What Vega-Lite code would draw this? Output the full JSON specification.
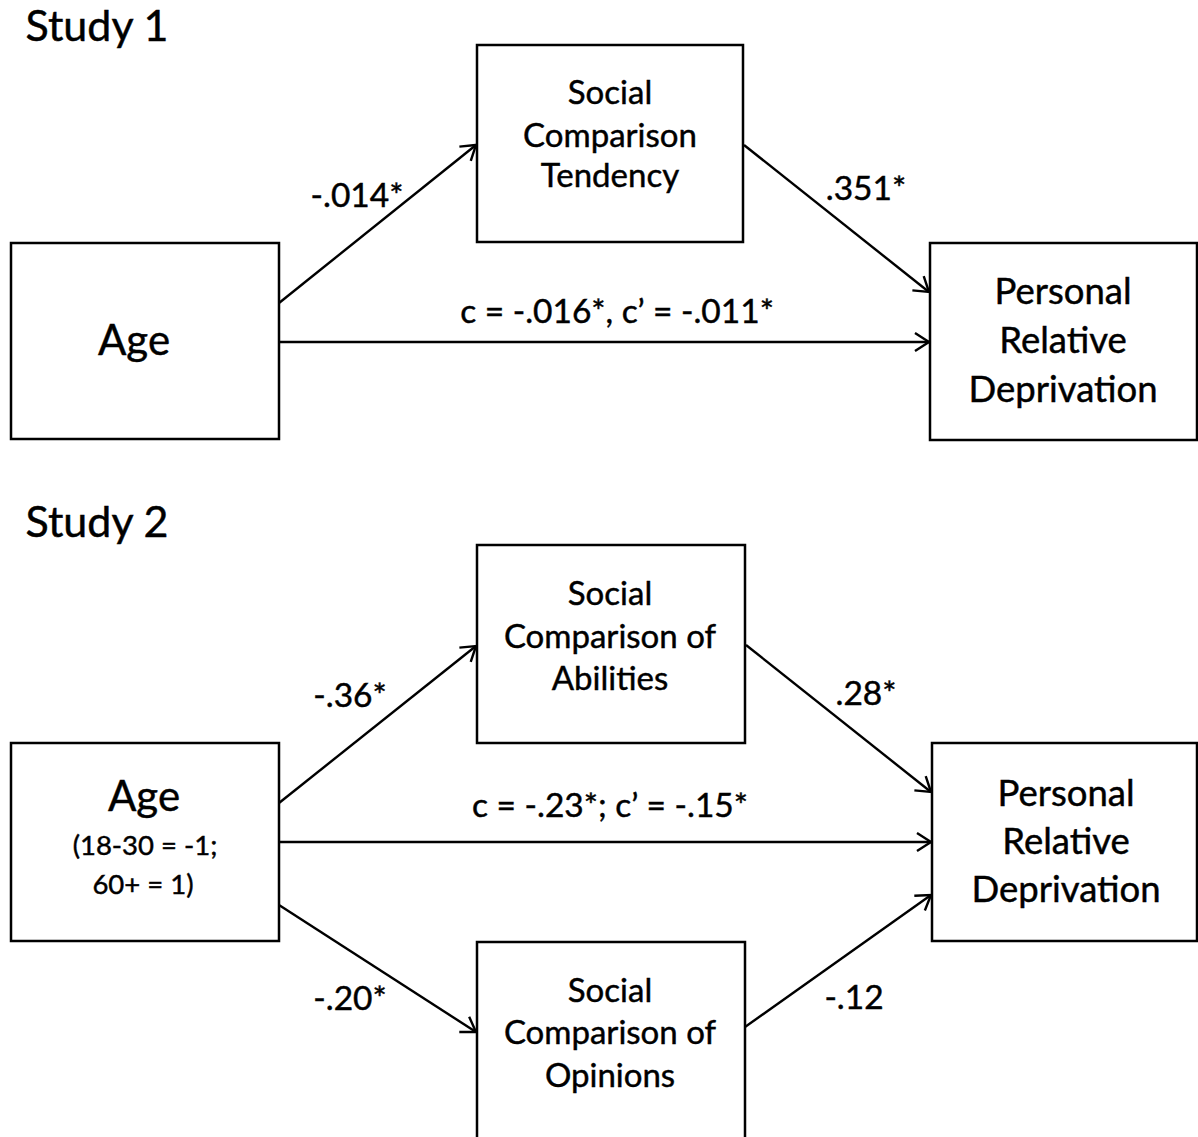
{
  "$schema": "https://vega.github.io/schema/vega-lite/v6.json",
  "autosize": {"type": "fit", "contains": "padding"},
  "width": 1198,
  "height": 1137,
  "padding": 0,
  "background": "white",
  "config": {"view": {"stroke": null}, "text": {"font": "Lato", "align": "center", "baseline": "middle", "color": "black", "stroke": "black", "strokeWidth": 0.45}},
  "datasets": {
    "boxes": [
      {"node": "S1 Age", "x": 11, "x2": 279, "y": 243, "y2": 439},
      {"node": "S1 Social Comparison Tendency", "x": 477, "x2": 743, "y": 45, "y2": 242},
      {"node": "S1 Personal Relative Deprivation", "x": 930, "x2": 1197, "y": 243, "y2": 440},
      {"node": "S2 Age", "x": 11, "x2": 279, "y": 743, "y2": 941},
      {"node": "S2 Social Comparison of Abilities", "x": 477, "x2": 745, "y": 545, "y2": 743},
      {"node": "S2 Personal Relative Deprivation", "x": 932, "x2": 1197, "y": 743, "y2": 941},
      {"node": "S2 Social Comparison of Opinions", "x": 477, "x2": 745, "y": 942, "y2": 1160}
    ],
    "edges": [
      {"path": "S1 a", "x": 279, "y": 303, "x2": 476, "y2": 145, "angle": 321.3},
      {"path": "S1 b", "x": 744, "y": 145, "x2": 929, "y2": 292, "angle": 38.5},
      {"path": "S1 c", "x": 279, "y": 342, "x2": 929, "y2": 342, "angle": 0},
      {"path": "S2 a1", "x": 279, "y": 803, "x2": 476, "y2": 646, "angle": 321.4},
      {"path": "S2 b1", "x": 746, "y": 645, "x2": 931, "y2": 792, "angle": 38.5},
      {"path": "S2 c", "x": 279, "y": 842, "x2": 931, "y2": 842, "angle": 0},
      {"path": "S2 a2", "x": 279, "y": 905, "x2": 476, "y2": 1032, "angle": 32.8},
      {"path": "S2 b2", "x": 745, "y": 1027, "x2": 931, "y2": 895, "angle": 324.6}
    ],
    "labels": [
      {"role": "title", "text": "Study 1", "x": 97, "y": 28},
      {"role": "coef", "text": "-.014*", "x": 357, "y": 197},
      {"role": "node", "text": "Social", "x": 610, "y": 94},
      {"role": "node", "text": "Comparison", "x": 610, "y": 137},
      {"role": "node", "text": "Tendency", "x": 610, "y": 177},
      {"role": "coef", "text": ".351*", "x": 866, "y": 190},
      {"role": "coef", "text": "c = -.016*, c’ = -.011*", "x": 617, "y": 313},
      {"role": "age", "text": "Age", "x": 134, "y": 342},
      {"role": "prd", "text": "Personal", "x": 1063, "y": 293},
      {"role": "prd", "text": "Relative", "x": 1063, "y": 342},
      {"role": "prd", "text": "Deprivation", "x": 1063, "y": 391},
      {"role": "title", "text": "Study 2", "x": 97, "y": 524},
      {"role": "coef", "text": "-.36*", "x": 350, "y": 697},
      {"role": "node", "text": "Social", "x": 610, "y": 595},
      {"role": "node", "text": "Comparison of", "x": 610, "y": 638},
      {"role": "node", "text": "Abilities", "x": 610, "y": 680},
      {"role": "coef", "text": "c = -.23*; c’ = -.15*", "x": 610, "y": 807},
      {"role": "coef", "text": ".28*", "x": 866, "y": 695},
      {"role": "prd", "text": "Personal", "x": 1066, "y": 795},
      {"role": "prd", "text": "Relative", "x": 1066, "y": 843},
      {"role": "prd", "text": "Deprivation", "x": 1066, "y": 891},
      {"role": "age", "text": "Age", "x": 144, "y": 798},
      {"role": "note", "text": "(18-30 = -1;", "x": 145, "y": 847},
      {"role": "note", "text": "60+ = 1)", "x": 143, "y": 886},
      {"role": "coef", "text": "-.20*", "x": 350, "y": 1000},
      {"role": "node", "text": "Social", "x": 610, "y": 992},
      {"role": "node", "text": "Comparison of", "x": 610, "y": 1034},
      {"role": "node", "text": "Opinions", "x": 610, "y": 1077},
      {"role": "coef", "text": "-.12", "x": 854, "y": 999}
    ]
  },
  "layer": [
    {
      "data": {"name": "boxes"},
      "mark": {"type": "rect", "fill": "white", "stroke": "black", "strokeWidth": 2.5, "clip": true},
      "encoding": {
        "x": {"field": "x", "type": "quantitative", "scale": {"domain": [0, 1198], "nice": false, "zero": false}, "axis": null},
        "x2": {"field": "x2"},
        "y": {"field": "y", "type": "quantitative", "scale": {"domain": [0, 1137], "nice": false, "zero": false, "reverse": true}, "axis": null},
        "y2": {"field": "y2"}
      }
    },
    {
      "data": {"name": "edges"},
      "mark": {"type": "rule", "stroke": "black", "strokeWidth": 2.4},
      "encoding": {
        "x": {"field": "x", "type": "quantitative"},
        "x2": {"field": "x2"},
        "y": {"field": "y", "type": "quantitative"},
        "y2": {"field": "y2"}
      }
    },
    {
      "data": {"name": "edges"},
      "mark": {"type": "point", "shape": "M-1,-0.65L0,0L-1,0.65", "size": 784, "filled": false, "stroke": "black", "strokeWidth": 2.4, "opacity": 1},
      "encoding": {
        "x": {"field": "x2", "type": "quantitative"},
        "y": {"field": "y2", "type": "quantitative"},
        "angle": {"field": "angle", "type": "quantitative", "scale": null}
      }
    },
    {
      "data": {"name": "labels"},
      "transform": [{"filter": "datum.role === 'title'"}],
      "mark": {"type": "text", "fontSize": 43},
      "encoding": {"x": {"field": "x", "type": "quantitative"}, "y": {"field": "y", "type": "quantitative"}, "text": {"field": "text"}}
    },
    {
      "data": {"name": "labels"},
      "transform": [{"filter": "datum.role === 'age'"}],
      "mark": {"type": "text", "fontSize": 42},
      "encoding": {"x": {"field": "x", "type": "quantitative"}, "y": {"field": "y", "type": "quantitative"}, "text": {"field": "text"}}
    },
    {
      "data": {"name": "labels"},
      "transform": [{"filter": "datum.role === 'node'"}],
      "mark": {"type": "text", "fontSize": 33},
      "encoding": {"x": {"field": "x", "type": "quantitative"}, "y": {"field": "y", "type": "quantitative"}, "text": {"field": "text"}}
    },
    {
      "data": {"name": "labels"},
      "transform": [{"filter": "datum.role === 'prd'"}],
      "mark": {"type": "text", "fontSize": 36.5},
      "encoding": {"x": {"field": "x", "type": "quantitative"}, "y": {"field": "y", "type": "quantitative"}, "text": {"field": "text"}}
    },
    {
      "data": {"name": "labels"},
      "transform": [{"filter": "datum.role === 'coef'"}],
      "mark": {"type": "text", "fontSize": 33.5},
      "encoding": {"x": {"field": "x", "type": "quantitative"}, "y": {"field": "y", "type": "quantitative"}, "text": {"field": "text"}}
    },
    {
      "data": {"name": "labels"},
      "transform": [{"filter": "datum.role === 'note'"}],
      "mark": {"type": "text", "fontSize": 27.5},
      "encoding": {"x": {"field": "x", "type": "quantitative"}, "y": {"field": "y", "type": "quantitative"}, "text": {"field": "text"}}
    }
  ]
}
